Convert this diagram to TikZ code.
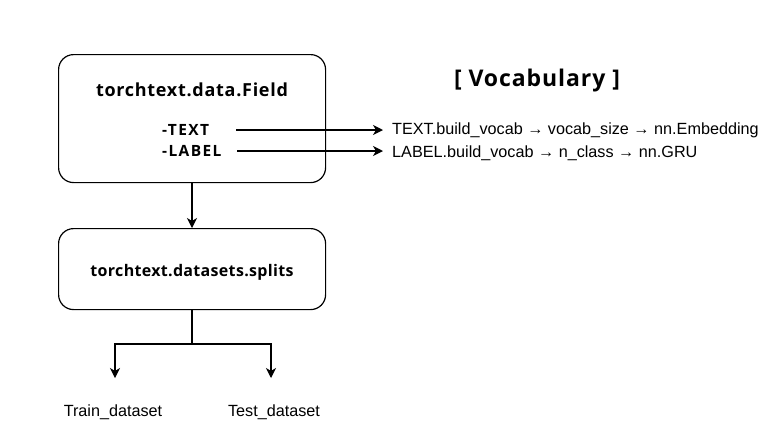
\documentclass[tikz,border=0pt]{standalone}
\usepackage{fontspec}
\setmainfont{Open Sans}
\newfontfamily\arialfont{Liberation Sans}
\usetikzlibrary{arrows.meta}
\begin{document}
\begin{tikzpicture}[x=1pt,y=-1pt,
  box/.style={draw,line width=1.2pt,rounded corners=15pt,minimum width=267pt,anchor=north west,inner sep=0pt},
  conn/.style={line width=1.2pt,-{Stealth[length=10pt,width=10pt,inset=3pt]}},
  plain/.style={line width=1.2pt},
  fieldlbl/.style={inner sep=0pt,anchor=west,font=\addfontfeatures{LetterSpace=9}\bfseries\fontsize{15.5}{17}\selectfont},
  lbl/.style={inner sep=0pt,font=\arialfont\fontsize{16.2}{18}\selectfont}]
\useasboundingbox (0,0) rectangle (773,421);
\node[box,minimum height=128pt] (field) at (58,54) {};
\node[inner sep=0pt,font=\addfontfeatures{LetterSpace=4}\bfseries\fontsize{18}{20}\selectfont] (ftitle) at (192,90) {torchtext.data.Field};
\node[fieldlbl] (ftext) at (162,130) {-TEXT};
\node[fieldlbl] (flabel) at (162,151) {-LABEL};
\node[box,minimum height=81pt] (splits) at (58,228) {};
\node[inner sep=0pt,font=\addfontfeatures{LetterSpace=2}\bfseries\fontsize{16}{18}\selectfont] (stitle) at (192,272) {torchtext.datasets.splits};
\node[inner sep=0pt,font=\addfontfeatures{LetterSpace=4}\bfseries\fontsize{23}{26}\selectfont] (vocab) at (537,81) {[ Vocabulary ]};
\node[lbl,anchor=west] (tline) at (392,130) {TEXT.build\_vocab → vocab\_size → nn.Embedding};
\node[lbl,anchor=west] (lline) at (392,153) {LABEL.build\_vocab → n\_class → nn.GRU};
\node[lbl] (train) at (113,412) {Train\_dataset};
\node[lbl] (test) at (274,412) {Test\_dataset};
\coordinate (ta) at (236,130);
\coordinate (la) at (237,151);
\coordinate (fork) at (192,344);
\coordinate (trainarrow) at (115,378);
\coordinate (testarrow) at (271,378);
\draw[conn] (ta) -- (383,130);
\draw[conn] (la) -- (383,151);
\draw[conn] (field.south -| 192,0) -- (splits.north -| 192,0);
\draw[plain] (splits.south -| 192,0) -- (fork);
\draw[conn] (fork) -| (trainarrow);
\draw[conn] (fork) -| (testarrow);
\end{tikzpicture}
\end{document}
